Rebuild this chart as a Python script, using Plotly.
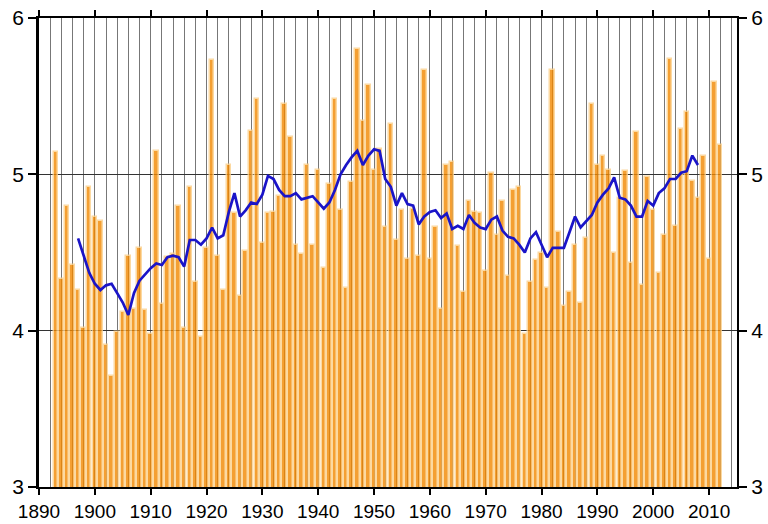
import plotly.graph_objects as go

# yearly values (bars)
years = list(range(1893, 2013))
values = [
    5.14, 4.33, 4.80, 4.42, 4.26, 4.02, 4.92,              # 1893-1899
    4.73, 4.70, 3.91, 3.71, 3.99, 4.12, 4.48, 4.14, 4.53, 4.13,  # 1900s
    3.98, 5.15, 4.17, 4.47, 4.49, 4.80, 4.02, 4.92, 4.31, 3.96,  # 1910s
    4.53, 5.73, 4.48, 4.26, 5.06, 4.75, 4.22, 4.51, 5.28, 5.48,  # 1920s
    4.56, 4.75, 4.76, 4.86, 5.45, 5.24, 4.55, 4.49, 5.06, 4.55,  # 1930s
    5.03, 4.40, 4.94, 5.48, 4.77, 4.27, 4.95, 5.80, 5.34, 5.57,  # 1940s
    5.03, 5.16, 4.66, 5.32, 4.58, 4.77, 4.46, 4.78, 4.48, 5.67,  # 1950s
    4.46, 4.66, 4.14, 5.06, 5.08, 4.54, 4.25, 4.83, 4.76, 4.75,  # 1960s
    4.38, 5.01, 4.61, 4.83, 4.35, 4.90, 4.92, 3.98, 4.31, 4.45,  # 1970s
    4.50, 4.27, 5.67, 4.63, 4.16, 4.25, 4.55, 4.18, 4.59, 5.45,  # 1980s
    5.06, 5.12, 5.03, 4.50, 4.85, 5.02, 4.43, 5.27, 4.29, 4.98,  # 1990s
    4.77, 4.37, 4.61, 5.74, 4.67, 5.29, 5.40, 4.96, 4.85, 5.12,  # 2000s
    4.46, 5.59, 5.19,                                      # 2010-2012
]

# running mean
mean_years = list(range(1897, 2009))
mean_values = [
    4.59, 4.48, 4.37,                                      # 1897-1899
    4.30, 4.26, 4.29, 4.30, 4.24, 4.18, 4.10, 4.24, 4.32, 4.36,
    4.40, 4.43, 4.42, 4.47, 4.48, 4.47, 4.41, 4.58, 4.58, 4.55,
    4.59, 4.66, 4.59, 4.61, 4.76, 4.88, 4.73, 4.77, 4.82, 4.81,
    4.87, 4.99, 4.97, 4.90, 4.86, 4.86, 4.88, 4.84, 4.85, 4.86,
    4.82, 4.78, 4.82, 4.90, 5.00, 5.06, 5.11, 5.15, 5.06, 5.12,
    5.16, 5.15, 4.97, 4.92, 4.80, 4.88, 4.81, 4.80, 4.68, 4.73,
    4.76, 4.77, 4.72, 4.75, 4.65, 4.67, 4.65, 4.74, 4.69, 4.66,
    4.65, 4.71, 4.73, 4.64, 4.60, 4.59, 4.55, 4.50, 4.59, 4.63,
    4.55, 4.47, 4.53, 4.53, 4.53, 4.63, 4.73, 4.66, 4.70, 4.74,
    4.82, 4.87, 4.91, 4.98, 4.85, 4.84, 4.80, 4.73, 4.73, 4.83,
    4.80, 4.88, 4.91, 4.97, 4.97, 5.01, 5.02, 5.12, 5.06,  # 2000-2008
]

y_ticks = [3, 4, 5, 6]
font = dict(family="Liberation Sans, Arial, sans-serif", color="black")

fig = go.Figure()
fig.add_trace(go.Bar(
    x=years, y=values, width=0.8,
    marker=dict(color="#f28800", line=dict(color="#fcd08a", width=1.5)),
    opacity=0.8,
))
fig.add_trace(go.Scatter(
    x=mean_years, y=mean_values, mode="lines", yaxis="y2",
    line=dict(color="#1a14c8", width=2.7),
))

fig.update_layout(
    width=768, height=524,
    margin=dict(l=39, r=31, t=18, b=37),
    paper_bgcolor="white", plot_bgcolor="white",
    showlegend=False, bargap=0,
    font=font,
    xaxis=dict(
        range=[1890, 2015], tick0=1890, dtick=10,
        ticks="outside", ticklen=6, tickwidth=1.5, tickcolor="black",
        showline=True, linecolor="black", linewidth=2, mirror="ticks",
        showgrid=True, gridcolor="#777777", gridwidth=1,
        minor=dict(dtick=2, tick0=1890, showgrid=True, gridcolor="#777777", gridwidth=1, ticks=""),
        tickfont=dict(size=19), zeroline=False, automargin=False,
    ),
    yaxis=dict(
        range=[3, 6], tickvals=y_ticks,
        ticks="outside", ticklen=8, tickwidth=1.5, tickcolor="black",
        showline=True, linecolor="black", linewidth=2.5,
        showgrid=True, gridcolor="#333333", gridwidth=1,
        tickfont=dict(size=21), zeroline=False, automargin=False,
    ),
    yaxis2=dict(
        range=[3, 6], tickvals=y_ticks, overlaying="y", side="right",
        ticks="outside", ticklen=8, tickwidth=1.5, tickcolor="black",
        showline=True, linecolor="black", linewidth=2,
        showgrid=False, tickfont=dict(size=21), zeroline=False, automargin=False,
    ),
)

fig.write_html("out.html", config={"displayModeBar": False},
               post_script="document.body.style.margin='0';")
